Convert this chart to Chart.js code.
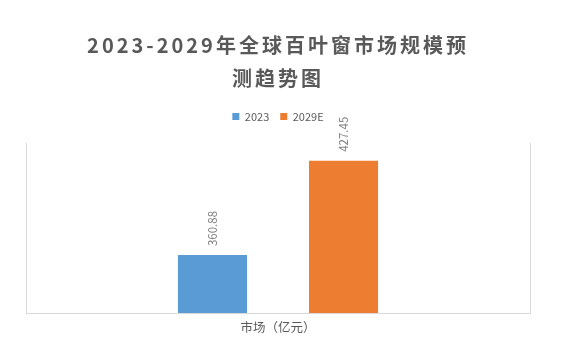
<!DOCTYPE html>
<html>
<head>
<meta charset="utf-8">
<script src="https://cdn.jsdelivr.net/npm/chart.js@4/dist/chart.umd.min.js"></script>
<style>
  html, body { margin: 0; padding: 0; background: #fff; }
  #wrap { width: 566px; height: 351px; }
</style>
</head>
<body>
<div id="wrap"><canvas id="chart"></canvas></div>
<script>
var categories = ["市场（亿元）"];
var seriesNames = ["2023", "2029E"];
var values2023 = [360.88];
var values2029 = [427.45];
var barColors = ["#5b9bd5", "#ed7d31"];

var fontCJK = "'Noto Sans CJK SC', 'Noto Sans', sans-serif";

// value labels turned on their side, sitting above each bar
var valueLabels = {
  id: "valueLabels",
  afterDatasetsDraw: function(chart) {
    var ctx = chart.ctx;
    chart.data.datasets.forEach(function(ds, i) {
      var meta = chart.getDatasetMeta(i);
      meta.data.forEach(function(bar, j) {
        ctx.save();
        ctx.translate(bar.x, bar.y - 9);
        ctx.rotate(-Math.PI / 2);
        ctx.font = "11.5px " + fontCJK;
        ctx.fillStyle = "#808080";
        ctx.textAlign = "left";
        ctx.textBaseline = "middle";
        ctx.fillText(ds.data[j].toFixed(2), 0, 0);
        ctx.restore();
      });
    });
  }
};

var chart = new Chart("chart", {
  type: "bar",
  data: {
    labels: categories,
    datasets: [
      { label: seriesNames[0], data: values2023, backgroundColor: barColors[0] },
      { label: seriesNames[1], data: values2029, backgroundColor: barColors[1] }
    ]
  },
  options: {
    responsive: true,
    maintainAspectRatio: false,
    animation: false,
    layout: { padding: { top: 20, left: 26, right: 36, bottom: 9 } },
    datasets: {
      bar: { categoryPercentage: 0.52, barPercentage: 0.527 }
    },
    plugins: {
      title: {
        display: true,
        text: ["2023-2029年全球百叶窗市场规模预", "测趋势图"],
        color: "#595959",
        font: { family: fontCJK, size: 20, weight: "bold", lineHeight: 1.65 },
        padding: { top: 9, bottom: 5 }
      },
      legend: {
        position: "top",
        labels: {
          color: "#595959",
          font: { family: fontCJK, size: 11 },
          boxWidth: 7,
          boxHeight: 7,
          padding: 11
        }
      },
      tooltip: { enabled: false }
    },
    scales: {
      x: {
        grid: { display: true, color: "#d9d9d9", drawTicks: false },
        border: { display: true, color: "#d9d9d9" },
        ticks: { color: "#595959", font: { family: fontCJK, size: 12.5 }, padding: 7 }
      },
      y: {
        display: false,
        min: 320,
        max: 440
      }
    }
  },
  plugins: [valueLabels]
});

// spread the title letters like the original
var titleDraw = chart.titleBlock.draw;
chart.titleBlock.draw = function(area) {
  var ctx = this.ctx;
  ctx.save();
  ctx.letterSpacing = "3px";
  titleDraw.call(this, area);
  ctx.restore();
};
// extra room under the legend
var legendFit = chart.legend.fit;
chart.legend.fit = function() {
  legendFit.call(this);
  this.height += 11;
};
chart.update("none");
</script>
</body>
</html>
